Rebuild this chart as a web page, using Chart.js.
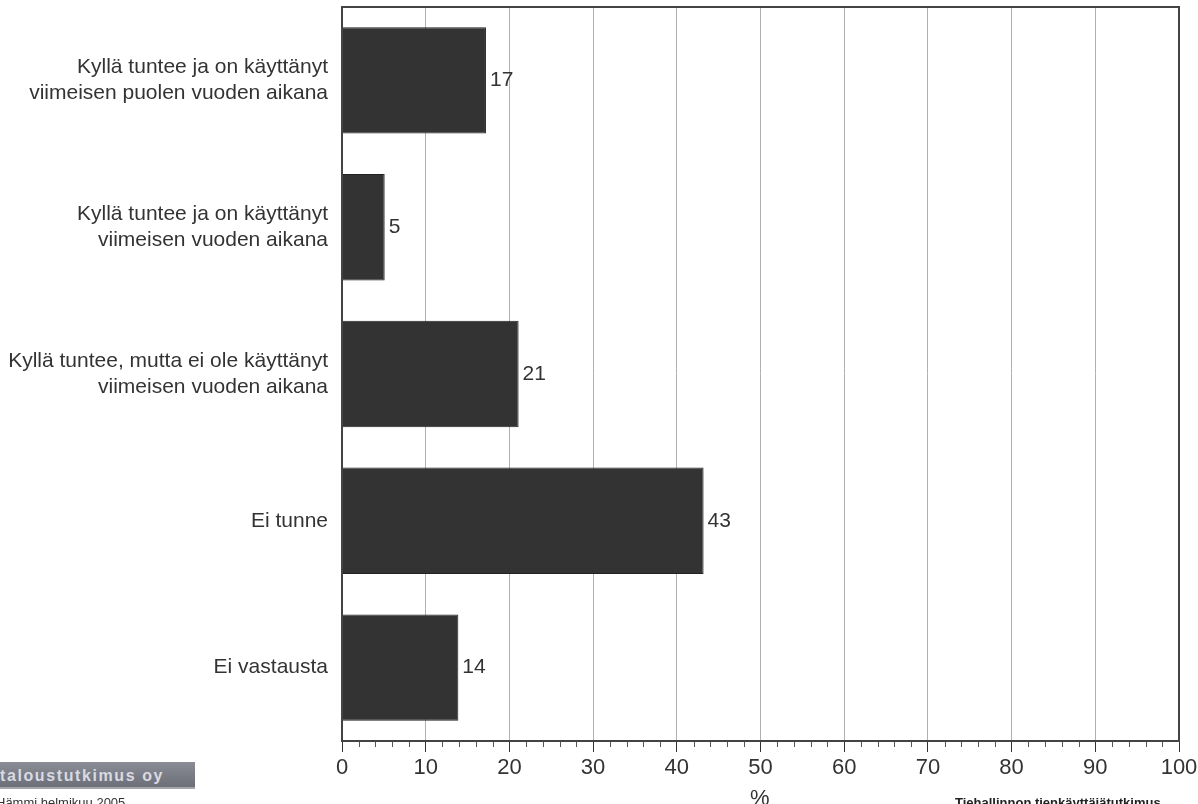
<!DOCTYPE html>
<html>
<head>
<meta charset="utf-8">
<script src="https://cdn.jsdelivr.net/npm/chart.js@4"></script>
<style>
  body { margin: 0; background: #fff; font-family: "Liberation Sans", Arial, sans-serif; }
  #wrap { position: relative; width: 1198px; height: 804px; overflow: hidden; }
  .logo { position: absolute; left: -6px; top: 762px; width: 201px; height: 27px;
    background: linear-gradient(#8a8d96, #6c6f78); border-bottom: 2px solid #a4a6ae;
    color: #d8dae4; font-size: 16px; font-weight: bold; letter-spacing: 1.6px; line-height: 27px; padding-left: 6px; box-sizing: border-box; white-space: nowrap; }
  .src { position: absolute; left: -4px; top: 795px; font-size: 13px; color: #333; }
  .pct { position: absolute; left: 750px; top: 785px; font-size: 22px; color: #333; }
  .foot { position: absolute; left: 955px; top: 795px; font-size: 13px; font-weight: bold; color: #222; white-space: nowrap; }
</style>
</head>
<body>
<div id="wrap">
  <canvas id="chart" width="1198" height="804"></canvas>
  <div class="logo">taloustutkimus oy</div>
  <div class="src">Hämmi helmikuu 2005</div>
  <div class="pct">%</div>
  <div class="foot">Tiehallinnon tienkäyttäjätutkimus</div>
</div>
<script>
const categories = [
    ['Kyllä tuntee ja on käyttänyt', 'viimeisen puolen vuoden aikana'],
    ['Kyllä tuntee ja on käyttänyt', 'viimeisen vuoden aikana'],
    ['Kyllä tuntee, mutta ei ole käyttänyt', 'viimeisen vuoden aikana'],
    'Ei tunne',
    'Ei vastausta'
];
const values = [17.2, 5.1, 21.1, 43.2, 13.9];
const valueLabels = ['17', '5', '21', '43', '14'];
const xTicks = [0, 10, 20, 30, 40, 50, 60, 70, 80, 90, 100];

// arvot palkkien perään + kehys + pienet jakoviivat
const extras = {
    id: 'extras',
    afterDatasetsDraw(chart) {
        const ctx = chart.ctx;
        const area = chart.chartArea;
        const xs = chart.scales.x;
        const meta = chart.getDatasetMeta(0);
        ctx.save();
        ctx.fillStyle = '#333';
        ctx.font = '21px "Liberation Sans", Arial, sans-serif';
        ctx.textBaseline = 'middle';
        meta.data.forEach((bar, i) => {
            ctx.fillText(valueLabels[i], bar.x + 4, bar.y);
        });
        // pienet jakoviivat 2 yksikön välein
        ctx.strokeStyle = '#555';
        ctx.lineWidth = 1;
        for (let v = 0; v <= 100; v += 2) {
            if (v % 10 === 0) continue;
            const x = Math.round(xs.getPixelForValue(v)) + 0.5;
            ctx.beginPath();
            ctx.moveTo(x, area.bottom);
            ctx.lineTo(x, area.bottom + 6);
            ctx.stroke();
        }
        // kehys
        ctx.strokeStyle = '#444';
        ctx.lineWidth = 2;
        ctx.strokeRect(area.left, area.top, area.right - area.left, area.bottom - area.top);
        ctx.restore();
    }
};

new Chart(document.getElementById('chart'), {
    type: 'bar',
    data: {
        labels: categories,
        datasets: [{
            data: values,
            backgroundColor: '#333333',
            borderColor: '#222222',
            borderWidth: 1,
            barPercentage: 0.725,
            categoryPercentage: 1
        }]
    },
    options: {
        indexAxis: 'y',
        responsive: false,
        animation: false,
        layout: { padding: { left: 0, right: 19, top: 7, bottom: 0 } },
        plugins: {
            legend: { display: false },
            tooltip: { enabled: false }
        },
        scales: {
            x: {
                min: 0,
                max: 100,
                afterBuildTicks: (axis) => { axis.ticks = xTicks.map(v => ({ value: v })); },
                afterFit: (axis) => { axis.height = 63; axis.paddingLeft = 0; axis.paddingRight = 0; },
                ticks: {
                    color: '#333',
                    font: { size: 22, family: '"Liberation Sans", Arial, sans-serif' },
                    padding: 3
                },
                grid: {
                    color: '#b0b0b0',
                    lineWidth: 1,
                    tickColor: '#333',
                    tickLength: 11
                },
                border: { color: '#333', width: 2 }
            },
            y: {
                afterFit: (axis) => { axis.width = 342; axis.paddingTop = 0; axis.paddingBottom = 0; },
                ticks: {
                    color: '#333',
                    font: { size: 21, family: '"Liberation Sans", Arial, sans-serif', lineHeight: 1.22 },
                    padding: 6
                },
                grid: { display: false },
                border: { color: '#333', width: 2 }
            }
        }
    },
    plugins: [extras]
});
</script>
</body>
</html>
